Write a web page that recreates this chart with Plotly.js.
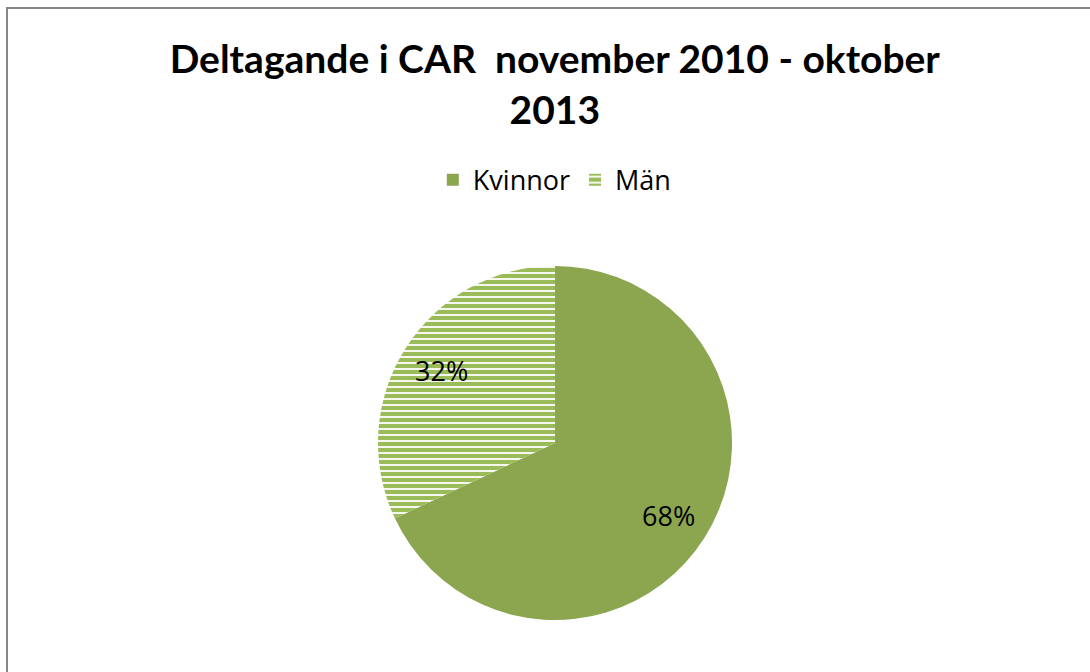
<!DOCTYPE html>
<html>
<head>
<meta charset="utf-8">
<script src="https://cdn.plot.ly/plotly-3.0.1.min.js"></script>
<style>
  html, body { margin: 0; padding: 0; background: #fff; }
  #plot { width: 1090px; height: 672px; }
</style>
</head>
<body>
<div id="plot"></div>
<script>
const categories = ['Kvinnor', 'Män'];
const shares = [68, 32];
const titleText = 'Deltagande i CAR  november 2010 - oktober<br>2013';

const sliceColors = ['#8BA64F', '#9BBB59'];

// pie placement (paper fractions)
const pieDomainX = [0.3468, 0.6716];
const pieDomainY = [0.0774, 0.6042];
const W = 1090, H = 672;

// label positions computed from the data: mid-angle of each slice, at 3/4 radius
function labelAnnotations() {
    const total = shares.reduce((a, b) => a + b, 0);
    const cx = (pieDomainX[0] + pieDomainX[1]) / 2 * W;
    const cy = (pieDomainY[0] + pieDomainY[1]) / 2 * H;
    const r = Math.min((pieDomainX[1] - pieDomainX[0]) * W, (pieDomainY[1] - pieDomainY[0]) * H) / 2;
    let start = 0;
    return shares.map((v) => {
        const frac = v / total;
        const mid = (start + frac / 2) * 2 * Math.PI;
        start += frac;
        const x = cx + 0.76 * r * Math.sin(mid);
        const y = cy + 0.76 * r * Math.cos(mid);
        return {
            xref: 'paper', yref: 'paper',
            x: x / W, y: y / H,
            xanchor: 'center', yanchor: 'middle',
            text: Math.round(frac * 100) + '%',
            showarrow: false,
            font: { family: 'Open Sans, sans-serif', size: 27, color: '#000' }
        };
    });
}

function draw() {
    try {
        const trace = {
            type: 'pie',
            labels: categories,
            values: shares,
            sort: false,
            direction: 'clockwise',
            rotation: 0,
            textinfo: 'none',
            marker: {
                colors: sliceColors,
                line: { width: 0 },
                pattern: {
                    shape: ['', '-'],
                    fgcolor: '#ffffff',
                    bgcolor: sliceColors,
                    size: 6,
                    solidity: 0.3,
                    fillmode: 'replace'
                }
            },
            domain: { x: pieDomainX, y: pieDomainY },
            hoverinfo: 'label+percent'
        };

        const layout = {
            width: W,
            height: H,
            margin: { l: 0, r: 0, t: 0, b: 0 },
            paper_bgcolor: '#ffffff',
            title: {
                text: titleText,
                font: { family: 'Lato, sans-serif', size: 39, color: '#000', weight: 'bold' },
                x: 0.509,
                xanchor: 'center',
                y: 0.891,
                yanchor: 'top'
            },
            showlegend: true,
            legend: {
                orientation: 'h',
                x: 0.509,
                xanchor: 'center',
                y: 0.732,
                yanchor: 'middle',
                font: { family: 'Open Sans, sans-serif', size: 27, color: '#000' },
                itemwidth: 30
            },
            annotations: labelAnnotations(),
            shapes: [
                {
                    type: 'rect',
                    xref: 'paper', yref: 'paper',
                    x0: 7 / W, x1: 1.05,
                    y0: -0.05, y1: 1 - 8 / H,
                    line: { color: '#878787', width: 2 },
                    fillcolor: 'rgba(0,0,0,0)'
                }
            ]
        };

        Plotly.newPlot('plot', [trace], layout, { displayModeBar: false });
    } catch (err) {
        console.error(err);
    }
}

draw();
</script>
</body>
</html>
